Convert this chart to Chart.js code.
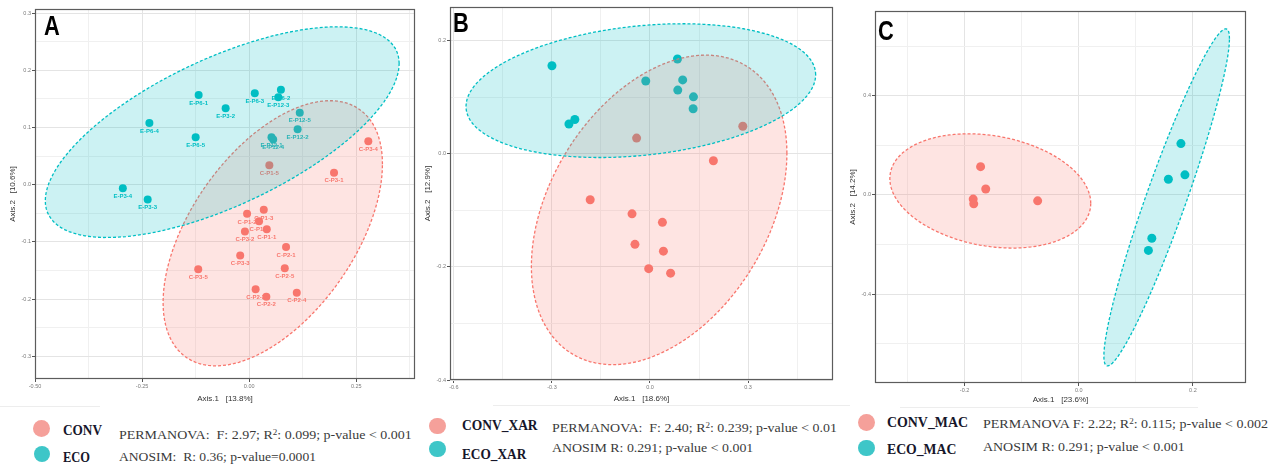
<!DOCTYPE html>
<html>
<head>
<meta charset="utf-8">
<script src="https://cdn.jsdelivr.net/npm/chart.js@4.4.0/dist/chart.umd.min.js"></script>
<style>
  html, body { margin: 0; padding: 0; background: #fff; }
  #page { position: relative; width: 1279px; height: 466px; overflow: hidden; }
  canvas { position: absolute; top: 0; }
  .lg { position: absolute; white-space: nowrap; font-family: "Liberation Serif", "Times New Roman", serif; transform-origin: 0 50%; }
  .lg sup { font-size: 0.65em; line-height: 0; vertical-align: 0.45em; }
  .key { position: absolute; border-radius: 50%; }
  .sep { position: absolute; background: #ededed; height: 1px; }
</style>
</head>
<body>
<div id="page">
  <canvas id="panelA" width="420" height="405" style="left:0px"></canvas>
  <canvas id="panelB" width="420" height="405" style="left:420px"></canvas>
  <canvas id="panelC" width="439" height="405" style="left:840px"></canvas>
</div>
<script>
// --- Painel A: todas as amostras ---
const A_CONV_X = [0.047, 0.278, 0.198, -0.005, 0.034, 0.023, 0.041, -0.010, 0.086, -0.021, -0.119, 0.083, 0.015, 0.040, 0.111];
const A_CONV_Y = [0.034, 0.076, 0.021, -0.051, -0.044, -0.064, -0.078, -0.082, -0.109, -0.124, -0.148, -0.146, -0.183, -0.196, -0.189];
const A_CONV_LABELS = ['C-P1-5', 'C-P3-4', 'C-P3-1', 'C-P1-2', 'C-P1-3', 'C-P1-4', 'C-P1-1', 'C-P3-2', 'C-P2-1', 'C-P3-3', 'C-P3-5', 'C-P2-5', 'C-P2-3', 'C-P2-2', 'C-P2-4'];
const A_ECO_X = [-0.118, -0.055, 0.013, 0.074, 0.068, 0.118, 0.113, -0.233, -0.125, 0.052, 0.056, -0.295, -0.237];
const A_ECO_Y = [0.157, 0.134, 0.160, 0.166, 0.153, 0.126, 0.097, 0.108, 0.083, 0.083, 0.079, -0.006, -0.026];
const A_ECO_LABELS = ['E-P6-1', 'E-P3-2', 'E-P6-3', 'E-P6-2', 'E-P12-3', 'E-P12-5', 'E-P12-2', 'E-P6-4', 'E-P6-5', 'E-P12-1', 'E-P12-4', 'E-P3-4', 'E-P3-3'];
// elipses: [centro x, centro y, semi-eixo u (x, y), semi-eixo vertical v]
const A_CONV_ELLIPSE = [0.055, -0.085, 0.256, 0.121, 0.198];
const A_ECO_ELLIPSE = [-0.063, 0.092, 0.413, 0.120, 0.140];
const A_X_TICKS = [-0.5, -0.25, 0, 0.25];
const A_Y_TICKS = [-0.3, -0.2, -0.1, 0, 0.1, 0.2, 0.3];

// --- Painel B: XAR ---
const B_CONV_X = [-0.041, 0.284, 0.194, -0.183, -0.055, 0.038, -0.046, 0.041, -0.004, 0.063];
const B_CONV_Y = [0.028, 0.049, -0.012, -0.081, -0.106, -0.121, -0.160, -0.172, -0.203, -0.211];
const B_ECO_X = [-0.300, -0.248, -0.230, -0.013, 0.084, 0.100, 0.085, 0.133, 0.132];
const B_ECO_Y = [0.156, 0.053, 0.061, 0.129, 0.168, 0.131, 0.113, 0.101, 0.080];
const B_CONV_ELLIPSE = [0.028, -0.099, 0.391, 0.100, 0.255];
const B_ECO_ELLIPSE = [-0.028, 0.112, 0.535, 0.028, 0.115];
const B_X_TICKS = [-0.6, -0.3, 0, 0.3];
const B_Y_TICKS = [-0.4, -0.2, 0, 0.2];

// --- Painel C: MAC ---
const C_CONV_X = [-0.172, -0.163, -0.185, -0.184, -0.072];
const C_CONV_Y = [0.114, 0.024, -0.017, -0.036, -0.024];
const C_ECO_X = [0.179, 0.157, 0.186, 0.128, 0.122];
const C_ECO_Y = [0.207, 0.063, 0.081, -0.175, -0.224];
const C_CONV_ELLIPSE = [-0.155, 0.016, 0.176, -0.050, 0.225];
const C_ECO_ELLIPSE = [0.154, -0.010, 0.110, 0.640, 0.230];
const C_X_TICKS = [-0.2, 0, 0.2];
const C_Y_TICKS = [-0.4, 0, 0.4];

const COL_CONV = '#f8766d';
const COL_ECO = '#00bfc4';
const FILL_CONV = 'rgba(248,118,109,0.2)';
const FILL_ECO = 'rgba(0,191,196,0.2)';
const SANS = '"Liberation Sans", Arial, sans-serif';

function toPoints(xs, ys) {
    return xs.map((x, i) => ({ x: x, y: ys[i] }));
}

function isMajor(list, v) {
    return list.some(m => Math.abs(m - v) < 1e-9);
}

function drawPanel(p) {
    const overlay = {
        id: 'overlay',
        afterDatasetsDraw(chart) {
            const ctx = chart.ctx;
            const area = chart.chartArea;
            const sx = chart.scales.x, sy = chart.scales.y;

            // rótulos das amostras
            chart.data.datasets.forEach((ds, i) => {
                if (!ds.pointLabels) return;
                const meta = chart.getDatasetMeta(i);
                ctx.save();
                ctx.font = 'bold 6px ' + SANS;
                ctx.fillStyle = ds.backgroundColor;
                ctx.textAlign = 'center';
                ctx.textBaseline = 'middle';
                meta.data.forEach((pt, j) => ctx.fillText(ds.pointLabels[j], pt.x, pt.y + 8));
                ctx.restore();
            });

            // elipses (por cima dos pontos, como no ggplot)
            ctx.save();
            ctx.beginPath();
            ctx.rect(area.left, area.top, area.right - area.left, area.bottom - area.top);
            ctx.clip();
            p.ellipses.forEach(e => {
                const [cx, cy, ux, uy, vy] = e.par;
                ctx.beginPath();
                for (let k = 0; k <= 120; k++) {
                    const t = k / 120 * Math.PI * 2;
                    const px = sx.getPixelForValue(cx + ux * Math.cos(t));
                    const py = sy.getPixelForValue(cy + uy * Math.cos(t) + vy * Math.sin(t));
                    if (k === 0) ctx.moveTo(px, py); else ctx.lineTo(px, py);
                }
                ctx.closePath();
                ctx.fillStyle = e.fill;
                ctx.fill();
                ctx.setLineDash([3, 2]);
                ctx.lineWidth = 1.3;
                ctx.strokeStyle = e.line;
                ctx.stroke();
            });
            ctx.restore();

            // moldura
            ctx.save();
            ctx.strokeStyle = '#5c5c5c';
            ctx.lineWidth = 1.2;
            ctx.strokeRect(area.left + 0.5, area.top + 0.5, area.right - area.left - 1, area.bottom - area.top - 1);
            ctx.restore();

            // letra do painel
            ctx.save();
            ctx.font = 'bold 28px ' + SANS;
            ctx.fillStyle = '#000';
            ctx.textBaseline = 'alphabetic';
            ctx.translate(p.letterX, p.letterY);
            ctx.scale(0.78, 1);
            ctx.fillText(p.letter, 0, 0);
            ctx.restore();
        }
    };

    const axis = (min, max, step, major, digits, title, titlePad) => ({
        type: 'linear',
        min: min,
        max: max,
        border: { display: false },
        grid: {
            color: c => isMajor(major, c.tick.value) ? '#e4e4e4' : '#f0f0f0',
            lineWidth: 1,
            tickLength: 3,
            tickColor: c => isMajor(major, c.tick.value) ? '#555' : 'rgba(0,0,0,0)'
        },
        ticks: {
            stepSize: step,
            includeBounds: false,
            autoSkip: false,
            maxRotation: 0,
            padding: 1,
            color: '#7a7a7a',
            font: { family: SANS, size: 5.5 },
            callback: v => isMajor(major, v) ? v.toFixed(digits) : ''
        },
        title: {
            display: true,
            text: title,
            color: '#333',
            font: { family: SANS, size: 8 },
            padding: titlePad
        }
    });

    const xAxis = axis(p.xMin, p.xMax, p.xStep, p.xMajor, p.xDigits, p.xTitle, { top: 0, bottom: p.xTitlePad });
    xAxis.position = 'bottom';
    xAxis.afterFit = s => { s.height = p.xHeight; };
    const yAxis = axis(p.yMin, p.yMax, p.yStep, p.yMajor, 1, p.yTitle, { top: p.yTitlePad, bottom: 0 });
    yAxis.position = 'left';
    yAxis.afterFit = s => { s.width = p.yWidth; };

    new Chart(document.getElementById(p.id), {
        type: 'scatter',
        data: {
            datasets: [
                {
                    label: 'CONV',
                    data: toPoints(p.convX, p.convY),
                    pointLabels: p.convLabels,
                    backgroundColor: COL_CONV,
                    borderWidth: 0,
                    pointRadius: p.radius
                },
                {
                    label: 'ECO',
                    data: toPoints(p.ecoX, p.ecoY),
                    pointLabels: p.ecoLabels,
                    backgroundColor: COL_ECO,
                    borderWidth: 0,
                    pointRadius: p.radius
                }
            ]
        },
        options: {
            responsive: false,
            animation: false,
            events: [],
            layout: { padding: { top: p.padTop, right: p.padRight, left: 0, bottom: 0 } },
            plugins: { legend: { display: false }, tooltip: { enabled: false } },
            scales: { x: xAxis, y: yAxis }
        },
        plugins: [overlay]
    });
}

drawPanel({
    id: 'panelA', letter: 'A', letterX: 44, letterY: 35,
    convX: A_CONV_X, convY: A_CONV_Y, convLabels: A_CONV_LABELS,
    ecoX: A_ECO_X, ecoY: A_ECO_Y, ecoLabels: A_ECO_LABELS,
    ellipses: [
        { par: A_CONV_ELLIPSE, fill: FILL_CONV, line: COL_CONV },
        { par: A_ECO_ELLIPSE, fill: FILL_ECO, line: COL_ECO }
    ],
    xMin: -0.5, xMax: 0.387, xStep: 0.125, xMajor: A_X_TICKS, xDigits: 2,
    yMin: -0.34, yMax: 0.3075, yStep: 0.05, yMajor: A_Y_TICKS,
    xTitle: 'Axis.1   [13.8%]', yTitle: 'Axis.2   [10.6%]',
    yWidth: 35, xHeight: 26, padTop: 9, padRight: 5, yTitlePad: 8, xTitlePad: 1, radius: 4
});

drawPanel({
    id: 'panelB', letter: 'B', letterX: 33, letterY: 32,
    convX: B_CONV_X, convY: B_CONV_Y, convLabels: null,
    ecoX: B_ECO_X, ecoY: B_ECO_Y, ecoLabels: null,
    ellipses: [
        { par: B_CONV_ELLIPSE, fill: FILL_CONV, line: COL_CONV },
        { par: B_ECO_ELLIPSE, fill: FILL_ECO, line: COL_ECO }
    ],
    xMin: -0.612, xMax: 0.56, xStep: 0.15, xMajor: B_X_TICKS, xDigits: 1,
    yMin: -0.4, yMax: 0.26, yStep: 0.1, yMajor: B_Y_TICKS,
    xTitle: 'Axis.1   [18.6%]', yTitle: 'Axis.2   [12.9%]',
    yWidth: 30, xHeight: 25, padTop: 7, padRight: 7, yTitlePad: 3, xTitlePad: 1, radius: 4.5
});

drawPanel({
    id: 'panelC', letter: 'C', letterX: 38, letterY: 40,
    convX: C_CONV_X, convY: C_CONV_Y, convLabels: null,
    ecoX: C_ECO_X, ecoY: C_ECO_Y, ecoLabels: null,
    ellipses: [
        { par: C_CONV_ELLIPSE, fill: FILL_CONV, line: COL_CONV },
        { par: C_ECO_ELLIPSE, fill: FILL_ECO, line: COL_ECO }
    ],
    xMin: -0.357, xMax: 0.293, xStep: 0.1, xMajor: C_X_TICKS, xDigits: 1,
    yMin: -0.759, yMax: 0.742, yStep: 0.2, yMajor: C_Y_TICKS,
    xTitle: 'Axis.1   [23.6%]', yTitle: 'Axis.2   [14.2%]',
    yWidth: 35, xHeight: 22, padTop: 11, padRight: 33, yTitlePad: 8, xTitlePad: 0, radius: 4.5
});

// --- legendas e estatísticas (texto) ---
const page = document.getElementById('page');

function putText(html, left, cy, width, size, bold, color) {
    const el = document.createElement('div');
    el.className = 'lg';
    el.innerHTML = html;
    el.style.fontSize = size + 'px';
    el.style.lineHeight = size + 'px';
    el.style.fontWeight = bold ? 'bold' : 'normal';
    el.style.color = color;
    el.style.left = left + 'px';
    el.style.top = (cy - size / 2) + 'px';
    page.appendChild(el);
    const w = el.getBoundingClientRect().width;
    el.style.transform = 'scaleX(' + (width / w) + ')';
}

function putKey(cx, cy, r, color) {
    const el = document.createElement('div');
    el.className = 'key';
    el.style.left = (cx - r) + 'px';
    el.style.top = (cy - r) + 'px';
    el.style.width = (2 * r) + 'px';
    el.style.height = (2 * r) + 'px';
    el.style.background = color;
    page.appendChild(el);
}

function putSep(left, top, width) {
    const el = document.createElement('div');
    el.className = 'sep';
    el.style.left = left + 'px';
    el.style.top = top + 'px';
    el.style.width = width + 'px';
    page.appendChild(el);
}

putSep(0, 406, 100);
putSep(493, 405, 357);
putSep(900, 407, 298);

const KEY_CONV = '#f5a09a';
const KEY_ECO = '#3ec6c8';
const DARK = '#16162a';
const STAT = '#3a3a3a';

putKey(41.5, 428.3, 8.6, KEY_CONV);
putKey(41.7, 454, 8.2, KEY_ECO);
putText('CONV', 63, 430.5, 39, 14, true, DARK);
putText('ECO', 63, 458, 27, 14, true, DARK);
putText('PERMANOVA:&nbsp; F: 2.97; R<sup>2</sup>: 0.099; p-value &lt; 0.001', 119, 434, 292.7, 13, false, STAT);
putText('ANOSIM:&nbsp; R: 0.36; p-value=0.0001', 119, 456, 197, 13, false, STAT);

putKey(437.7, 426, 8.3, KEY_CONV);
putKey(437.7, 449, 8.3, KEY_ECO);
putText('CONV_XAR', 461.7, 425.5, 75.6, 14, true, DARK);
putText('ECO_XAR', 461.7, 455, 64.3, 14, true, DARK);
putText('PERMANOVA:&nbsp; F: 2.40; R<sup>2</sup>: 0.239; p-value &lt; 0.01', 551.7, 427, 285, 13, false, STAT);
putText('ANOSIM R: 0.291; p-value &lt; 0.001', 551.7, 447.5, 201.3, 13, false, STAT);

putKey(866.7, 422.5, 8.4, KEY_CONV);
putKey(866.7, 448, 8.4, KEY_ECO);
putText('CONV_MAC', 886.7, 422.5, 81, 14, true, DARK);
putText('ECO_MAC', 886.7, 450, 69.3, 14, true, DARK);
putText('PERMANOVA F: 2.22; R<sup>2</sup>: 0.115; p-value &lt; 0.002', 983.3, 423, 285, 13, false, STAT);
putText('ANOSIM R: 0.291; p-value &lt; 0.001', 983.3, 446, 201.7, 13, false, STAT);
</script>
</body>
</html>
